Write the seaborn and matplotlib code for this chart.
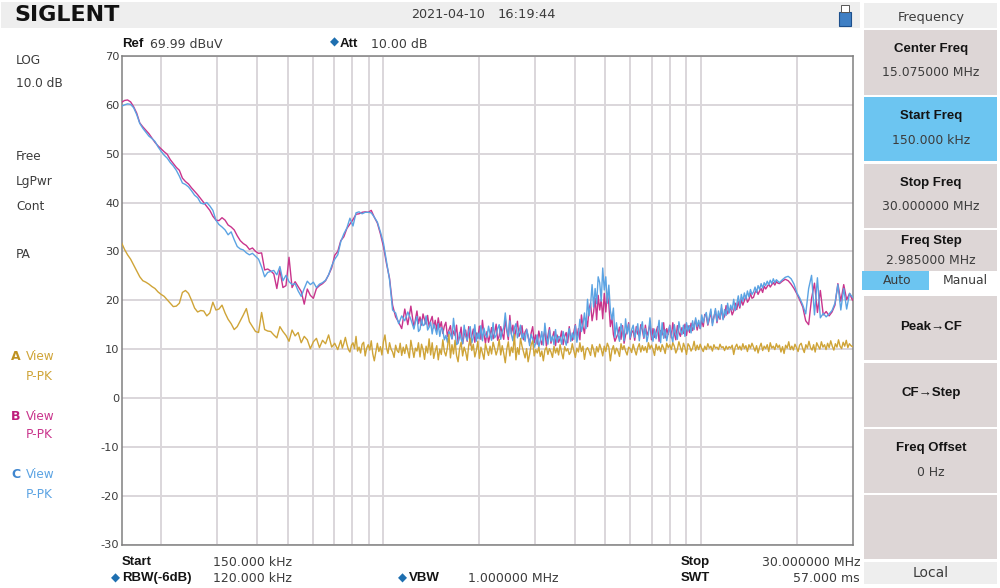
import numpy as np
import pandas as pd
import seaborn as sns
import matplotlib
matplotlib.use("Agg")
import matplotlib.pyplot as plt
from matplotlib.patches import Rectangle

# ---------- data ----------
START_MHZ = 0.15
STOP_MHZ = 30.0
Y_TICKS = [70, 60, 50, 40, 30, 20, 10, 0, -10, -20, -30]
GRID_MHZ = [0.2, 0.3, 0.4, 0.5, 0.6, 0.7, 0.8, 0.9, 1, 2, 3, 4, 5, 6, 7, 8, 9, 10, 20]

# Each trace is read in ten segments of equal width on the log frequency axis.
trace_a = [
    [31.8,30.4,29.3,28.4,27.2,26.0,24.8,24.0,23.7,23.3,22.8,22.4,21.7,21.2,20.8,20.1,19.4,18.7,18.8,19.4,21.6,22.0,21.4,20.0],
    [18.4,17.6,17.9,17.8,16.8,17.4,19.6,18.0,18.2,19.0,17.4,16.1,15.2,14.0,14.6,15.8,17.0,18.3,15.6,14.6,13.6,13.4,17.5,14.0],
    [13.7,13.6,12.9,12.3,14.6,13.6,12.8,11.6,13.9,12.7,13.4,11.3,12.6,11.9,10.1,11.5,12.2,10.3,11.8,11.1,12.9,10.4,11.2,9.9],
    [11.8,10.2,11.2,12.4,11,9.9,9.4,10.8, 11.3,10.1,12.6,9.6,10.4,9.2,11.0,11.4, 8.6,10.2,10.9,9.8,11.7,9.0,7.6,9.4,
     11.2,9.5,10.5,8.8,11.5,12.9,10.2,9.1, 11.3,10.0,9.4,8.3,10.8,9.7,9.3,11.2, 8.7,10.4,9.1,10.9,9.6,8.2,11.8,10.0],
    [8.3,10.2,9.6,11.3,8.4,11.0,9.9,7.9, 10.6,9.2,12.1,8.8,11.3,8.1,9.6,10.7, 7.8,10.0,8.9,11.9,9.5,8.6,10.3,13.0,
     8.2,10.9,9.0,11.8,8.7,7.4,10.1,11.4, 8.6,10.4,9.4,7.7,10.8,12.2,9.7,11.0, 8.4,9.7,11.6,8.1,10.4,9.2,7.9,11.1],
    [9.8,8.7,10.6,9.0,11.4,10.2,8.8,9.9, 12.0,8.8,10.7,9.1,7.2,10.0,11.5,8.6, 10.4,9.3,13.0,7.8,10.3,8.9,12.2,10.6,
     9.4,8.2,10.1,7.4,9.0,10.9,11.7,8.6, 9.9,9.2,10.4,8.5,9.6,7.6,9.8,10.4, 8.9,10.1,9.4,8.3,10.6,9.2,10.2,8.8],
    [10.9,9.3,8.0,10.5,9.6,10.1,8.9,9.4, 11.1,9.7,8.3,10.2,9.4,11.3,9.5,10.6, 7.9,9.8,10.3,9.6,8.7,10.9,9.9,8.4,
     10.5,9.4,11.0,10.0,8.6,10.6,9.5,11.2, 10.4,7.6,9.8,10.7,9.0,10.2,9.6,8.5, 11.1,9.9,10.7,9.6,8.8,10.4,10.1,9.3],
    [11.0,9.8,8.8,10.3,11.1,9.4,10.7,9.7, 10.5,9.3,11.3,10.1,10.8,9.9,8.7,11.0, 9.8,10.6,9.5,10.9,10.2,9.1,11.2,10.3,
     10.9,9.9,11.3,10.6,9.2,10.0,11.5,10.4, 9.4,11.2,10.3,8.9,11.1,10.6,9.6,10.2, 11.6,9.7,10.8,9.9,11.0,10.1,9.5,10.6],
    [9.9,11.1,10.2,10.6,9.6,10.9,10.2,10.4, 9.9,11.0,10.3,10.5,9.7,10.6,10.0,10.5, 10.2,10.8,8.9,10.4,11.0,10.0,10.6,9.8,
     11.1,10.1,10.7,9.5,10.9,10.2,11.2,10.4, 9.6,10.7,9.2,10.4,11.2,9.7,10.6,10.1, 10.9,9.5,11.3,10.2,10.6,9.9,11.1,10.3],
    [10.8,9.4,10.5,9.1,10.8,10.2,11.5,9.9, 10.6,9.8,11.0,10.3,9.5,10.8,11.2,10.1, 9.3,10.9,10.2,11.6,10.3,9.8,10.9,9.4,
     11.3,10.6,10.0,11.5,10.4,10.9,9.9,11.2, 10.3,11.7,10.6,9.8,11.1,10.4,11.9,10.6, 10.1,11.4,10.6,11.8,10.3,11.1,10.7,10.5],
]
trace_b = [
    [60.5,60.9,61.0,60.6,59.6,58.3,56.3,55.5,54.8,54.1,53.2,52.3,51.6,51.0,50.4,49.9,48.8,48.0,47.2,46.6,45.0,44.3,43.8,43.0],
    [42.3,41.6,40.8,40.0,39.2,38.4,37.2,36.4,36.3,36.9,36.4,35.4,35.0,34.4,33.2,32.2,31.6,31.2,30.4,30.7,30.0,29.6,29.7,26.2],
    [26.4,26.0,25.4,22.4,26.2,22.6,23.0,28.8,22.6,23.8,22.8,21.8,19.2,22.3,21.0,20.4,22.4,23.0,23.4,24.0,25.2,26.6,29.2,30.0],
    [32.2,33.0,34.7,35.6,36.5,37.6,37.7,38.0,38.1,38.0,38.4,37.0,35.8,33.6,31.0,27.5,24.5,19.0,16.6,15.5,14.2,18.2,15.0,18.8],
    [14.4,16.1,17.8,15.2,16.6,14.9,17.2,16.0, 15.1,16.9,14.6,15.8,16.7,14.3,15.9,13.8, 16.4,14.4,15.6,13.2,14.7,15.5,12.6,13.9,
     14.8,12.1,13.7,12.8,14.9,11.3,12.6,14.5, 11.1,12.9,13.9,11.6,14.6,10.8,12.7,14.1, 11.4,13.3,12.2,14.7,12.0,15.9,13.0,11.2],
    [13.6,11.4,12.8,14.4,12.1,13.3,15.1,11.8, 12.7,14.6,13.2,12.0,16.2,13.8,11.9,16.9, 13.1,14.9,12.2,13.9,15.7,12.6,13.4,14.8,
     11.9,13.5,14.1,12.4,11.2,13.3,14.6,11.3, 12.9,11.0,13.7,12.2,10.9,12.4,13.9,10.6, 12.7,14.4,11.2,12.5,13.6,10.7,12.9,11.4],
    [12.2,13.7,10.9,12.6,13.4,11.3,14.6,12.3, 11.8,13.5,15.0,12.4,14.2,11.9,17.0,14.6, 13.2,16.3,14.6,18.2,19.4,15.8,17.6,20.4,
     16.0,21.0,18.0,20.2,16.2,21.4,17.6,21.3, 19.2,14.6,16.5,13.0,11.6,12.4,13.2,14.5, 12.0,14.8,11.2,12.9,13.6,15.4,12.0,13.4],
    [13.8,11.8,14.6,13.1,12.7,15.0,13.9,12.2, 14.9,12.8,13.7,15.2,11.9,14.2,12.4,13.5, 14.6,11.6,13.8,12.9,15.4,12.3,14.2,13.0,
     14.9,12.3,15.4,13.2,11.9,14.8,13.4,12.6, 14.4,13.2,15.1,12.8,14.8,13.4,15.3,13.8, 14.8,16.0,13.9,15.4,14.2,15.9,14.6,17.1],
    [16.8,14.9,16.1,17.6,15.3,16.6,17.9,15.4, 17.1,16.1,18.4,16.2,16.7,18.9,17.2,18.0, 18.3,17.0,17.8,19.4,18.1,19.7,18.4,20.1,
     19.0,19.9,20.9,19.6,20.1,21.4,20.4,20.6, 21.6,22.1,21.2,21.9,22.4,21.6,22.9,22.3, 22.8,23.3,22.7,23.2,23.6,23.1,23.8,23.5],
    [23.4,23.9,24.3,24.0,23.3,22.4,21.3,20.0,18.6,15.8,15.0,20.4,23.5,17.5,22.0,17.0,17.7,16.8,17.6,19.0,23.4,19.8,23.2,20.1,21.4,20.0],
]
trace_c = [
    [59.7,60.0,60.2,60.1,59.4,58.0,56.2,55.2,54.4,53.6,53.1,52.5,51.4,50.5,49.7,49.1,48.2,47.5,46.6,45.4,44.0,43.7,43.2,42.4],
    [41.5,41.0,39.9,39.7,40.0,39.3,38.4,36.4,35.5,35.0,34.4,33.4,34.0,32.4,31.0,30.5,30.3,29.7,29.3,29.6,29.0,28.4,26.8,24.8],
    [25.7,25.9,26.1,25.2,26.9,24.0,25.1,23.8,23.2,23.4,21.9,20.8,22.4,23.9,23.2,23.7,22.6,23.3,23.6,24.1,25.2,27.0,28.4,29.3],
    [32.0,33.6,34.8,36.8,35.2,37.9,38.1,37.7,38.0,38.0,37.9,37.0,36.0,34.0,31.7,28.0,24.2,18.0,17.4,15.2,16.8,15.8,17.6,16.1],
    [14.1,15.6,16.7,13.6,14.0,16.1,14.8,15.0, 16.8,13.9,14.5,15.5,13.1,15.1,14.2,13.0, 15.2,12.6,14.4,13.8,11.9,12.8,11.4,13.6,
     13.0,12.1,16.3,13.4,10.9,11.2,13.4,12.1, 11.1,14.9,12.6,11.8,13.7,14.6,11.3,12.4, 15.0,11.6,13.3,12.1,14.8,11.7,14.3,12.9],
    [12.4,14.7,13.1,11.8,15.4,12.3,12.8,14.2, 15.0,12.0,13.6,14.4,17.4,14.1,12.6,15.8, 13.0,11.7,14.4,15.2,12.3,13.6,14.9,12.1,
     13.2,11.6,14.0,12.8,10.7,13.0,12.1,10.4, 11.2,12.9,10.3,11.8,13.6,10.8,15.3,12.4, 11.0,13.9,11.6,12.7,10.9,14.0,11.4,12.6],
    [12.4,11.0,13.6,12.1,10.8,12.9,14.2,11.6, 13.3,12.0,14.8,11.4,13.0,16.1,13.6,15.0, 17.4,14.2,20.2,16.8,19.1,23.2,18.6,22.4,
     19.3,24.8,23.6,19.8,26.6,22.1,24.8,19.4, 23.1,17.9,16.0,18.4,12.4,15.4,13.0,11.6, 15.2,13.8,11.7,16.2,13.1,15.1,12.3,14.0],
    [14.9,12.4,13.6,15.2,11.7,14.1,15.6,12.4, 14.2,11.5,13.1,16.4,13.0,11.6,14.1,12.1, 13.7,15.9,11.3,15.4,12.2,14.0,11.7,13.3,
     14.8,12.8,11.4,15.0,13.1,12.0,15.6,13.9, 13.0,14.9,12.6,15.4,13.7,14.8,13.3,15.8, 14.0,16.4,14.6,15.9,14.2,17.0,15.4,16.7],
    [17.5,15.1,16.7,18.2,14.8,16.4,18.3,15.7, 17.8,16.3,19.1,16.0,18.1,16.9,19.4,17.4, 19.0,18.0,20.2,17.9,19.2,20.9,18.8,21.2,
     19.8,21.5,20.2,21.9,20.7,22.2,21.2,21.7, 22.7,21.6,23.0,22.2,23.4,22.5,23.6,23.0, 23.9,23.2,24.1,23.4,24.4,23.6,24.2,23.9],
    [23.6,24.2,24.7,24.9,24.4,23.3,21.5,20.4,19.0,17.2,22.4,25.1,17.0,24.6,16.4,17.3,16.6,17.2,17.9,19.4,23.2,18.0,22.4,18.2,21.4,20.6],
]

LEFT_LABELS = ["LOG", "10.0 dB", "Free", "LgPwr", "Cont", "PA"]

COL_A = "#CFA437"
COL_B = "#C9348C"
COL_C = "#5BA3E3"
TXT = "#3c3c3c"
BTN = "#DDD6D6"
HDR = "#EEEEEE"
SKY = "#6CC5F1"
GRID = "#DAD6DA"
MAIN = "DejaVu Sans"
BOLD = "Liberation Sans"
REG = 8.7
BSZ = 9.5

# ---------- figure ----------
sns.set_theme(style="white")
W, H = 1000, 588
fig = plt.figure(figsize=(W / 100, H / 100), dpi=100, facecolor="white")
ax = fig.add_axes([121.5 / W, 1 - 544.5 / H, 731 / W, 488.5 / H])


def long_form(name, segments):
    n = len(segments)
    edges = np.geomspace(START_MHZ, STOP_MHZ, n + 1)
    rows = []
    for i, seg in enumerate(segments):
        f = np.geomspace(edges[i], edges[i + 1], len(seg), endpoint=(i == n - 1))
        rows.append(pd.DataFrame({"freq": f, "level": seg, "trace": name}))
    return pd.concat(rows, ignore_index=True)


df = pd.concat([long_form("B", trace_b), long_form("C", trace_c), long_form("A", trace_a)],
               ignore_index=True)
sns.lineplot(data=df, x="freq", y="level", hue="trace", hue_order=["B", "C", "A"],
             palette={"A": COL_A, "B": COL_B, "C": COL_C},
             estimator=None, sort=False, errorbar=None, linewidth=1.0, legend=False, ax=ax, zorder=3)

ax.set_xscale("log")
ax.set_xlim(START_MHZ, STOP_MHZ)
ax.set_ylim(-30, 70)
ax.set_xlabel("")
ax.set_ylabel("")
ax.set_xticks(GRID_MHZ)
ax.set_xticks([], minor=True)
ax.set_xticklabels([])
ax.set_yticks(Y_TICKS)
ax.set_yticklabels([str(v) for v in Y_TICKS], fontsize=8.2, color=TXT, family=MAIN)
ax.tick_params(axis="both", which="both", length=0, pad=1.5)
ax.grid(True, axis="both", color=GRID, linewidth=1.4, zorder=1)
ax.set_axisbelow(True)
for s in ax.spines.values():
    s.set_color("#808080")
    s.set_linewidth(1.1)


def T(x, y, s, size=REG, color=TXT, weight="normal", ha="left", family=MAIN):
    fig.text(x / W, 1 - y / H, s, fontsize=size, color=color, fontweight=weight,
             ha=ha, va="center", family=family)


def B(x, y, s, ha="left"):
    T(x, y, s, size=BSZ, color="#141414", weight="bold", ha=ha, family=[BOLD, "DejaVu Sans"])


def box(x0, y0, x1, y1, color, **kw):
    fig.add_artist(Rectangle((x0 / W, 1 - y1 / H), (x1 - x0) / W, (y1 - y0) / H,
                             transform=fig.transFigure, facecolor=color,
                             edgecolor=kw.get("ec", "none"), linewidth=kw.get("lw", 0)))


# top bar
box(1, 2, 860, 28, HDR)
T(14, 15, "SIGLENT", size=16, color="#111111", weight="bold")
T(411, 15, "2021-04-10", size=9.2)
T(498, 15, "16:19:44", size=9.4)
box(839, 12, 851, 26, "#3F7FC4", ec="#1d4f8c", lw=0.8)
box(841, 5, 849, 12, "white", ec="#555555", lw=0.7)

# header row over the plot
B(122, 44, "Ref")
T(150, 44, "69.99 dBuV", size=9)
T(330, 42, "◆", size=8.5, color="#1E6FB0")
B(340, 44, "Att")
T(371, 44, "10.00 dB", size=9)

# left column
for y, s in zip([60, 84, 157, 181, 206, 255], LEFT_LABELS):
    T(16, y, s)
for y, c, dark, s in [(357, COL_A, "#BE9120", "A"), (416, COL_B, "#BE1F7C", "B"), (475, COL_C, "#3F86CF", "C")]:
    T(11, y, s, size=9, color=dark, weight="bold")
    T(26, y, "View", color=c)
    T(26, y + 19, "P-PK", color=c)

# footer
B(122, 562, "Start")
T(213, 562, "150.000 kHz", size=9)
T(111, 578, "◆", size=8.5, color="#1E6FB0")
B(122, 578, "RBW(-6dB)")
T(213, 578, "120.000 kHz", size=9)
T(398, 578, "◆", size=8.5, color="#1E6FB0")
B(409, 578, "VBW")
T(468, 578, "1.000000 MHz", size=9)
B(681, 562, "Stop")
T(860, 562, "30.000000 MHz", size=9, ha="right")
B(681, 578, "SWT")
T(860, 578, "57.000 ms", size=9, ha="right")

# right panel
cx = 931
box(864, 3, 997, 28, HDR)
T(cx, 17, "Frequency", size=9.3, ha="center")
box(864, 30, 997, 95, BTN)
B(cx, 49, "Center Freq", ha="center")
T(cx, 73, "15.075000 MHz", size=8.9, ha="center")
box(864, 97, 997, 161, SKY)
B(cx, 116, "Start Freq", ha="center")
T(cx, 140, "150.000 kHz", size=8.9, ha="center")
box(864, 164, 997, 228, BTN)
B(cx, 183, "Stop Freq", ha="center")
T(cx, 206, "30.000000 MHz", size=8.9, ha="center")
box(864, 230, 997, 271, BTN)
B(cx, 241, "Freq Step", ha="center")
T(cx, 261, "2.985000 MHz", size=8.9, ha="center")
box(862, 271, 929, 290, SKY)
box(931, 271, 997, 290, "white")
T(897, 280, "Auto", size=8.9, ha="center")
T(965, 280, "Manual", size=8.9, ha="center")
box(864, 296, 997, 360, BTN)
B(cx, 327, "Peak→CF", ha="center")
box(864, 363, 997, 427, BTN)
B(cx, 393, "CF→Step", ha="center")
box(864, 429, 997, 493, BTN)
B(cx, 448, "Freq Offset", ha="center")
T(cx, 472, "0 Hz", size=8.9, ha="center")
box(864, 495, 997, 559, BTN)
box(864, 562, 997, 584, HDR)
T(cx, 573, "Local", size=10, ha="center")

fig.savefig("out.png", dpi=100, facecolor="white")
